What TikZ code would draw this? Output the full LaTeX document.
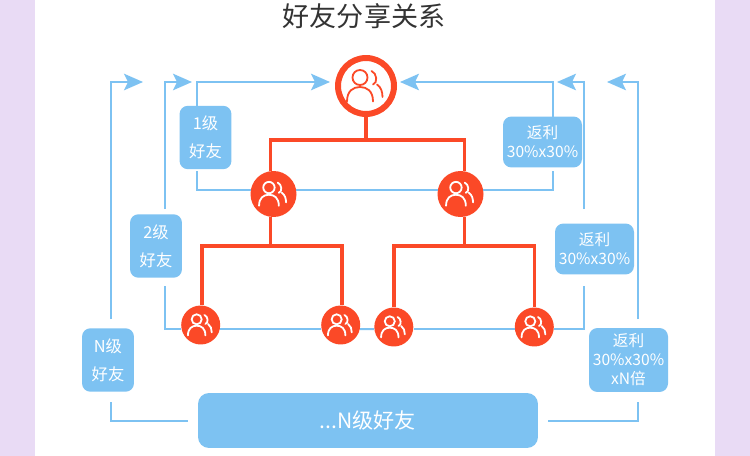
\documentclass[tikz,border=0pt]{standalone}
\usepackage{fontspec}
\setmainfont{Noto Sans CJK SC}
\usetikzlibrary{arrows.meta,positioning}
\definecolor{lavender}{HTML}{E9DBF5}
\definecolor{skyblue}{HTML}{7DC2F2}
\definecolor{tomato}{HTML}{FB4927}
\definecolor{titlegray}{HTML}{333333}
\tikzstyle{link}      = [line width=.04cm,draw=skyblue]
\tikzstyle{arrow}     = [link,-{Stealth[length=.38cm,width=.33cm,inset=.08cm,fill=skyblue]}]
\tikzstyle{tree}      = [line width=.07cm,draw=tomato]
\tikzstyle{friend}    = [circle,fill=tomato,inner sep=0pt]
\tikzstyle{levelbox}  = [rectangle,rounded corners=.17cm,fill=skyblue,text=white,inner sep=0pt,align=center,font=\fontsize{9.3}{15.9}\selectfont]
\tikzstyle{rebatebox} = [levelbox,font=\fontsize{8.9}{10.8}\selectfont]
\tikzset{
	friends/.pic={
		\draw[line width=.036cm,line cap=round] (-6,-8.5) circle (7.5);
		\draw[line width=.036cm,line cap=round] (-19,15.5) .. controls (-19,5) and (-13,1) .. (-6,1) .. controls (1,1) and (7,5) .. (7,15.5);
		\draw[line width=.036cm,line cap=round] (5.5,-15) .. controls (11,-13) and (12,-3) .. (7,-1.5);
		\draw[line width=.036cm,line cap=round] (11,-1.5) .. controls (15,1) and (16.5,6) .. (16.5,11);
	}
}
\begin{document}
\begin{tikzpicture}[x=.02cm,y=-.02cm]
	\useasboundingbox (0,0) rectangle (750,456);
	\fill[lavender] (0,0) rectangle (750,456);
	\fill[white] (35,0) rectangle (715,456);

	\node[text=titlegray,font=\fontsize{15.4}{18}\selectfont] (title) at (364,16) {好友分享关系};

	\node[circle,draw=tomato,line width=.12cm,fill=white,minimum size=1.12cm,inner sep=0pt] (root) at (366,86) {};
	\node[friend,minimum size=.92cm] (friendl) at (273.5,194) {};
	\node[friend,minimum size=.92cm] (friendr) at (460.5,194) {};
	\node[friend,minimum size=.78cm] (frienda) at (200.7,325) {};
	\node[friend,minimum size=.78cm] (friendb) at (340.7,325) {};
	\node[friend,minimum size=.78cm] (friendc) at (393.8,327) {};
	\node[friend,minimum size=.78cm] (friendd) at (534.3,327) {};

	\pic[tomato] at (root) {friends};
	\pic[white,scale=.76] at (friendl) {friends};
	\pic[white,scale=.76] at (friendr) {friends};
	\pic[white,scale=.67] at (frienda) {friends};
	\pic[white,scale=.67] at (friendb) {friends};
	\pic[white,scale=.67] at (friendc) {friends};
	\pic[white,scale=.67] at (friendd) {friends};

	\node[levelbox,minimum width=1.04cm,minimum height=1.27cm] (levela) at (205.5,137.5) {1级\\好友};
	\node[levelbox,minimum width=1.04cm,minimum height=1.27cm] (levelb) at (156,246) {2级\\好友};
	\node[levelbox,minimum width=1.04cm,minimum height=1.27cm] (leveln) at (108,360) {N级\\好友};
	\node[rebatebox,minimum width=1.58cm,minimum height=1.02cm] (rebatea) at (542.5,142) {返利\\30\%x30\%};
	\node[rebatebox,minimum width=1.58cm,minimum height=1.02cm] (rebateb) at (594.5,249) {返利\\30\%x30\%};
	\node[rebatebox,minimum width=1.58cm,minimum height=1.28cm] (rebaten) at (628.5,360) {返利\\30\%x30\%\\xN倍};
	\node[levelbox,minimum width=6.8cm,minimum height=1.1cm,rounded corners=.22cm,font=\fontsize{12}{14}\selectfont] (all) at (368,420.5) {...N级好友};

	\coordinate (forkroot) at (366,140);
	\coordinate (forkl) at (271,246);
	\coordinate (forkr) at (464,246);
	\draw[tree] (root.south) -- (forkroot);
	\draw[tree] (friendl.97) |- (forkroot) -| (friendr.80);
	\draw[tree] (friendl.-97) -- (friendl.-97 |- forkl);
	\draw[tree] (friendr.-80) -- (friendr.-80 |- forkr);
	\draw[tree] (frienda.86) |- (forkl) -| (friendb.86);
	\draw[tree] (friendc.north) |- (forkr) -| (friendd.north);

	\coordinate (tipa) at (330,82);
	\coordinate (tipb) at (192,82);
	\coordinate (tipn) at (143,82);
	\coordinate (tipra) at (400,82);
	\coordinate (tiprb) at (557,82);
	\coordinate (tiprn) at (607,82);
	\coordinate (topa) at (197,106);
	\coordinate (topb) at (165,209);
	\coordinate (topn) at (111,319);
	\coordinate (topra) at (553,117);
	\coordinate (toprb) at (584,209);
	\coordinate (toprn) at (638,319);
	\coordinate (lowa) at (197,171);
	\coordinate (lowb) at (165,286);
	\coordinate (lown) at (111,402);
	\coordinate (lowra) at (553,171);
	\coordinate (lowrb) at (584,286);
	\coordinate (lowrn) at (638,402);

	\draw[arrow] (topa) |- (tipa);
	\draw[arrow] (topb) |- (tipb);
	\draw[arrow] (topn) |- (tipn);
	\draw[arrow] (topra) |- (tipra);
	\draw[arrow] (toprb) |- (tiprb);
	\draw[arrow] (toprn) |- (tiprn);

	\draw[link] (lowa) |- (friendl.170);
	\draw[link] (friendl.10) -- (friendr.170);
	\draw[link] (friendr.10) -| (lowra);
	\draw[link] (lowb) |- (frienda.-168);
	\draw[link] (frienda.-12) -- (friendb.-168);
	\draw[link] (friendb.-12) -- (friendc.-174);
	\draw[link] (friendc.-6) -- (friendd.-174);
	\draw[link] (friendd.-6) -| (lowrb);

	\coordinate (gapl) at (188,421);
	\coordinate (gapr) at (548,421);
	\draw[link] (lown) |- (gapl);
	\draw[link] (gapr) -| (lowrn);
\end{tikzpicture}
\end{document}
